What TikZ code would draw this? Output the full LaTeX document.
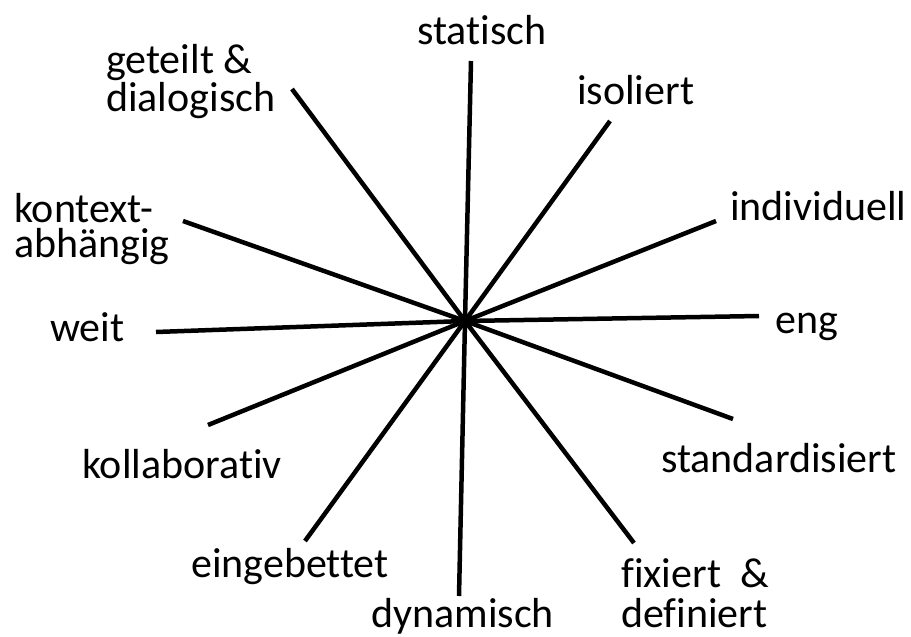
\documentclass[tikz,border=0pt]{standalone}
\usepackage{fontspec}
\setmainfont{Carlito}[Ligatures={NoCommon}]
\usetikzlibrary{positioning}
\tikzset{
  ray/.style={line width=4.5pt},
  pole/.style={font=\fontsize{42}{35}\selectfont, anchor=base west, align=left, inner sep=0pt}
}

\begin{document}
\begin{tikzpicture}[x=1pt,y=-1pt]
  \useasboundingbox (0,0) rectangle (911,637);
  \coordinate (c) at (465,321);
  \coordinate (stat-e) at (471,61);
  \coordinate (dyn-e) at (459,596);
  \coordinate (get-e) at (292,89);
  \coordinate (fix-e) at (634,543);
  \coordinate (iso-e) at (610,121);
  \coordinate (einb-e) at (305,541);
  \coordinate (kont-e) at (183,221);
  \coordinate (stand-e) at (733,419);
  \coordinate (indiv-e) at (716,221);
  \coordinate (koll-e) at (208,425);
  \coordinate (weit-e) at (156,332);
  \coordinate (eng-e) at (759,316);
  \draw[ray] (stat-e) -- (c) -- (dyn-e);
  \draw[ray] (get-e) -- (c) -- (fix-e);
  \draw[ray] (iso-e) -- (c) -- (einb-e);
  \draw[ray] (kont-e) -- (c) -- (stand-e);
  \draw[ray] (indiv-e) -- (c) -- (koll-e);
  \draw[ray] (weit-e) -- (c) -- (eng-e);
  \node[pole] (stat) at (417,45) {statisch};
  \node[pole] (dyn) at (371,627) {dynamisch};
  \node[pole] (get) at (106,111) {geteilt \&\\dialogisch};
  \node[pole] (fix) at (621,627) {fixiert~~\&\\[5pt]definiert};
  \node[pole] (iso) at (577,104) {isoliert};
  \node[pole] (einb) at (191,577) {eingebettet};
  \node[pole] (kont) at (14,257) {kontext-\\abhängig};
  \node[pole] (stand) at (661,472) {standardisiert};
  \node[pole] (indiv) at (730,220) {individuell};
  \node[pole] (koll) at (82,478) {kollaborativ};
  \node[pole] (weit) at (50,341) {weit};
  \node[pole] (eng) at (775,333) {eng};
\end{tikzpicture}
\end{document}
